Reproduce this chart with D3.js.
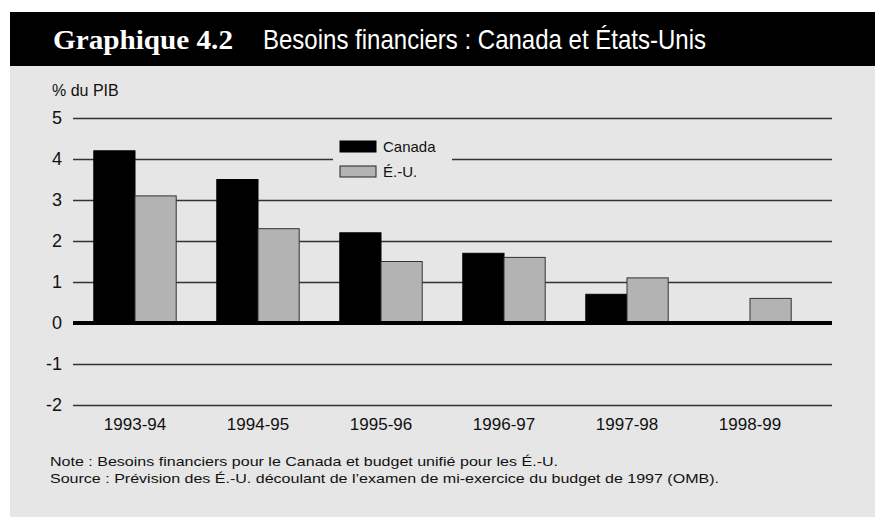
<!DOCTYPE html>
<html><head><meta charset="utf-8">
<script src="https://cdn.jsdelivr.net/npm/d3@7/dist/d3.min.js"></script>
<style>body{margin:0;background:#fff}svg{display:block}</style>
</head><body>
<svg id="c" width="875" height="517"></svg>
<script>
const categories = ["1993-94","1994-95","1995-96","1996-97","1997-98","1998-99"];
const canada = [4.2, 3.5, 2.2, 1.7, 0.7, null];
const us = [3.1, 2.3, 1.5, 1.6, 1.1, 0.6];
const seriesNames = ["Canada","É.-U."];
const yTicks = [-2,-1,0,1,2,3,4,5];
const title1 = "Graphique 4.2";
const title2 = "Besoins financiers : Canada et États-Unis";
const yTitle = "% du PIB";
const notes = ["Note : Besoins financiers pour le Canada et budget unifié pour les É.-U.",
  "Source : Prévision des É.-U. découlant de l’examen de mi-exercice du budget de 1997 (OMB)."];

const svg = d3.select("#c");
const sans = "'Liberation Sans', Arial, sans-serif";
svg.append("rect").attr("x",10).attr("y",12).attr("width",865).attr("height",505).attr("fill","#e6e6e6");
svg.append("rect").attr("x",10).attr("y",12).attr("width",865).attr("height",54).attr("fill","#000");
svg.append("text").attr("x",53).attr("y",49).attr("fill","#fff")
  .attr("font-family","'Liberation Serif','DejaVu Serif',serif").attr("font-weight","bold")
  .attr("font-size",28).attr("textLength",180).attr("lengthAdjust","spacingAndGlyphs").text(title1);
svg.append("text").attr("x",263).attr("y",49).attr("fill","#fff")
  .attr("font-family",sans).attr("font-size",28)
  .attr("textLength",443).attr("lengthAdjust","spacingAndGlyphs").text(title2);

const y = d3.scaleLinear().domain([-2,5]).range([405,118]);
const x0 = d3.scaleBand().domain(categories).range([73.5,811.5]).paddingInner(0.33).paddingOuter(0.165);
const x1 = d3.scaleBand().domain(seriesNames).range([0,x0.bandwidth()]);

svg.append("text").attr("x",52).attr("y",96).attr("font-family",sans).attr("font-size",16)
  .attr("fill","#111").text(yTitle);

// grid
const grid = svg.append("g")
  .call(d3.axisLeft(y).tickValues(yTicks).tickSize(-(832-73)).tickFormat(d=>String(d)))
  .attr("transform","translate(73,0)");
grid.select(".domain").remove();
grid.selectAll(".tick line").attr("stroke","#333").attr("stroke-width",1.4)
  .filter(d=>d===0).remove();
grid.selectAll(".tick text").attr("x",-11).attr("font-family",sans).attr("font-size",18).attr("fill","#111");

// legend mask
svg.append("rect").attr("x",333).attr("y",130).attr("width",119).attr("height",56).attr("fill","#e6e6e6");
const leg = svg.append("g");
seriesNames.forEach((s,i)=>{
  leg.append("rect").attr("x",340).attr("y",141+i*25).attr("width",36).attr("height",11)
    .attr("fill",i?"#b3b3b3":"#000").attr("stroke",i?"#222":"#000").attr("stroke-width",1);
  leg.append("text").attr("x",383).attr("y",152+i*25).attr("font-family",sans).attr("font-size",15)
    .attr("fill","#111").text(s);
});

// bars
const data = categories.map((c,i)=>({c, vals:[{s:seriesNames[0],v:canada[i]},{s:seriesNames[1],v:us[i]}]}));
const g = svg.append("g");
g.selectAll("g").data(data).join("g").attr("transform",d=>`translate(${x0(d.c)},0)`)
  .selectAll("rect").data(d=>d.vals.filter(e=>e.v!=null)).join("rect")
  .attr("x",e=>x1(e.s)).attr("width",x1.bandwidth())
  .attr("y",e=>y(Math.max(0,e.v))).attr("height",e=>Math.abs(y(e.v)-y(0)))
  .attr("fill",e=>e.s===seriesNames[0]?"#000":"#b3b3b3")
  .attr("stroke",e=>e.s===seriesNames[0]?"#000":"#333").attr("stroke-width",1);

// zero line
svg.append("line").attr("x1",73).attr("x2",832).attr("y1",y(0)).attr("y2",y(0))
  .attr("stroke","#000").attr("stroke-width",4);

// x labels
const xa = svg.append("g").attr("transform","translate(0,405)")
  .call(d3.axisBottom(x0).tickSize(0).tickPadding(0));
xa.select(".domain").remove();
xa.selectAll(".tick text").attr("dy",0).attr("y",25).attr("font-family",sans).attr("font-size",17).attr("fill","#111");

svg.append("text").attr("x",50).attr("y",466).attr("font-family",sans).attr("font-size",13.5)
  .attr("fill","#111").attr("textLength",508).attr("lengthAdjust","spacingAndGlyphs").text(notes[0]);
svg.append("text").attr("x",50).attr("y",483).attr("font-family",sans).attr("font-size",13.5)
  .attr("fill","#111").attr("textLength",669).attr("lengthAdjust","spacingAndGlyphs").text(notes[1]);
</script>
</body></html>
